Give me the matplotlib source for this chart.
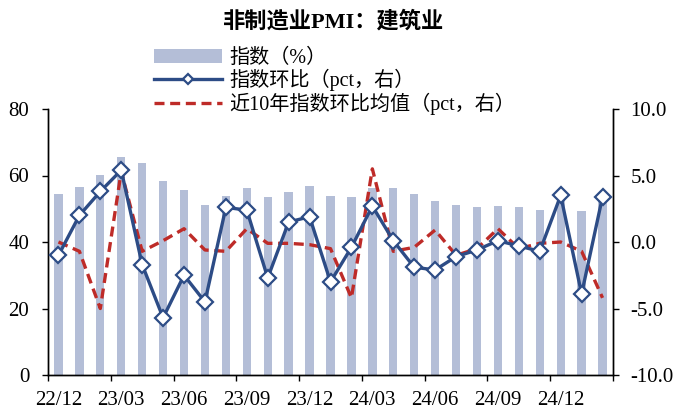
import numpy as np
import matplotlib
matplotlib.use("Agg")
import matplotlib.pyplot as plt

plt.rcParams['font.family'] = ['Liberation Serif', 'Noto Sans CJK SC']
plt.rcParams['axes.unicode_minus'] = False

months = ['22/12', '23/01', '23/02', '23/03', '23/04', '23/05', '23/06', '23/07', '23/08',
          '23/09', '23/10', '23/11', '23/12', '24/01', '24/02', '24/03', '24/04', '24/05',
          '24/06', '24/07', '24/08', '24/09', '24/10', '24/11', '24/12', '25/01', '25/02']
# 建筑业商务活动指数 (%)
pmi = [54.4, 56.4, 60.2, 65.6, 63.9, 58.2, 55.7, 51.2, 53.8,
       56.2, 53.5, 55.0, 56.9, 53.9, 53.5, 56.2, 56.3, 54.4,
       52.3, 51.2, 50.6, 50.7, 50.4, 49.7, 53.2, 49.3, 52.7]
# 指数环比 (pct)
mom = [-1.0, 2.0, 3.8, 5.4, -1.7, -5.7, -2.5, -4.5, 2.6,
       2.4, -2.7, 1.5, 1.9, -3.0, -0.4, 2.7, 0.1, -1.9,
       -2.1, -1.1, -0.6, 0.1, -0.3, -0.7, 3.5, -3.9, 3.4]
# 近10年指数环比均值 (pct)
mom_avg10 = [0.0, -0.7, -5.0, 5.3, -0.7, 0.1, 1.0, -0.6, -0.7,
             1.0, -0.1, -0.1, -0.2, -0.5, -4.2, 5.5, -0.7, -0.4,
             0.9, -1.0, -0.5, 1.0, -0.5, -0.1, 0.0, -0.7, -4.2]

bar_color = '#B4BED7'
blue = '#2D4C86'
red = '#BE2B28'

fig = plt.figure(figsize=(6.75, 4.12), dpi=100)
ax = fig.add_axes([48 / 675, 1 - 375 / 412, (613 - 48) / 675, (375 - 109) / 412])
ax2 = ax.twinx()

x = np.arange(len(months))
bars = ax.bar(x, pmi, width=0.4, color=bar_color, zorder=1, label='指数（%）')
l1, = ax2.plot(x, mom, color=blue, lw=2.4, marker='D', markersize=8.5,
               markerfacecolor='white', markeredgecolor=blue, markeredgewidth=1.6,
               zorder=3, label='指数环比（pct，右）')
l2, = ax2.plot(x, mom_avg10, color=red, lw=2.4, dashes=(3, 1.7),
               zorder=2, label='近10年指数环比均值（pct，右）')

ax.set_zorder(ax2.get_zorder() - 1)
ax.patch.set_visible(False)

ax.set_xlim(-0.5, len(months) - 0.5)
ax.set_ylim(0, 80)
ax.set_yticks([0, 20, 40, 60, 80])
ax2.set_ylim(-10, 10)
ax2.set_yticks([-10, -5, 0, 5, 10])
ax2.set_yticklabels(['%.1f' % v for v in [-10, -5, 0, 5, 10]])

lab_pos = x[::3]
ax.set_xticks(lab_pos)
ax.set_xticklabels([months[i] for i in lab_pos])
ax.set_xticks(np.arange(-0.5, len(months), 3), minor=True)
ax.tick_params(axis='x', which='major', length=0, pad=11.5, labelsize=15)
ax.tick_params(axis='x', which='minor', length=4.5, width=1, direction='out')
ax.tick_params(axis='y', length=4.5, width=1, pad=9, labelsize=15)
ax2.tick_params(axis='y', length=4.5, width=1, pad=8, labelsize=15)

for a in (ax, ax2):
    a.spines['top'].set_visible(False)
    for s in ('left', 'right', 'bottom'):
        a.spines[s].set_linewidth(1)
        a.spines[s].set_color('black')

fig.text(334 / 675, 1 - 22 / 412, '非制造业PMI：建筑业', ha='center', va='center',
         fontsize=16, fontweight='bold')

fig.legend(handles=[bars, l1, l2], loc='upper left',
           bbox_to_anchor=(154 / 675, 1 - 49 / 412), frameon=False,
           fontsize=14.5, handlelength=3.4, handletextpad=0.35,
           labelspacing=0.05, borderpad=0, borderaxespad=0, markerscale=0.55)

fig.savefig('out.png', dpi=100)
